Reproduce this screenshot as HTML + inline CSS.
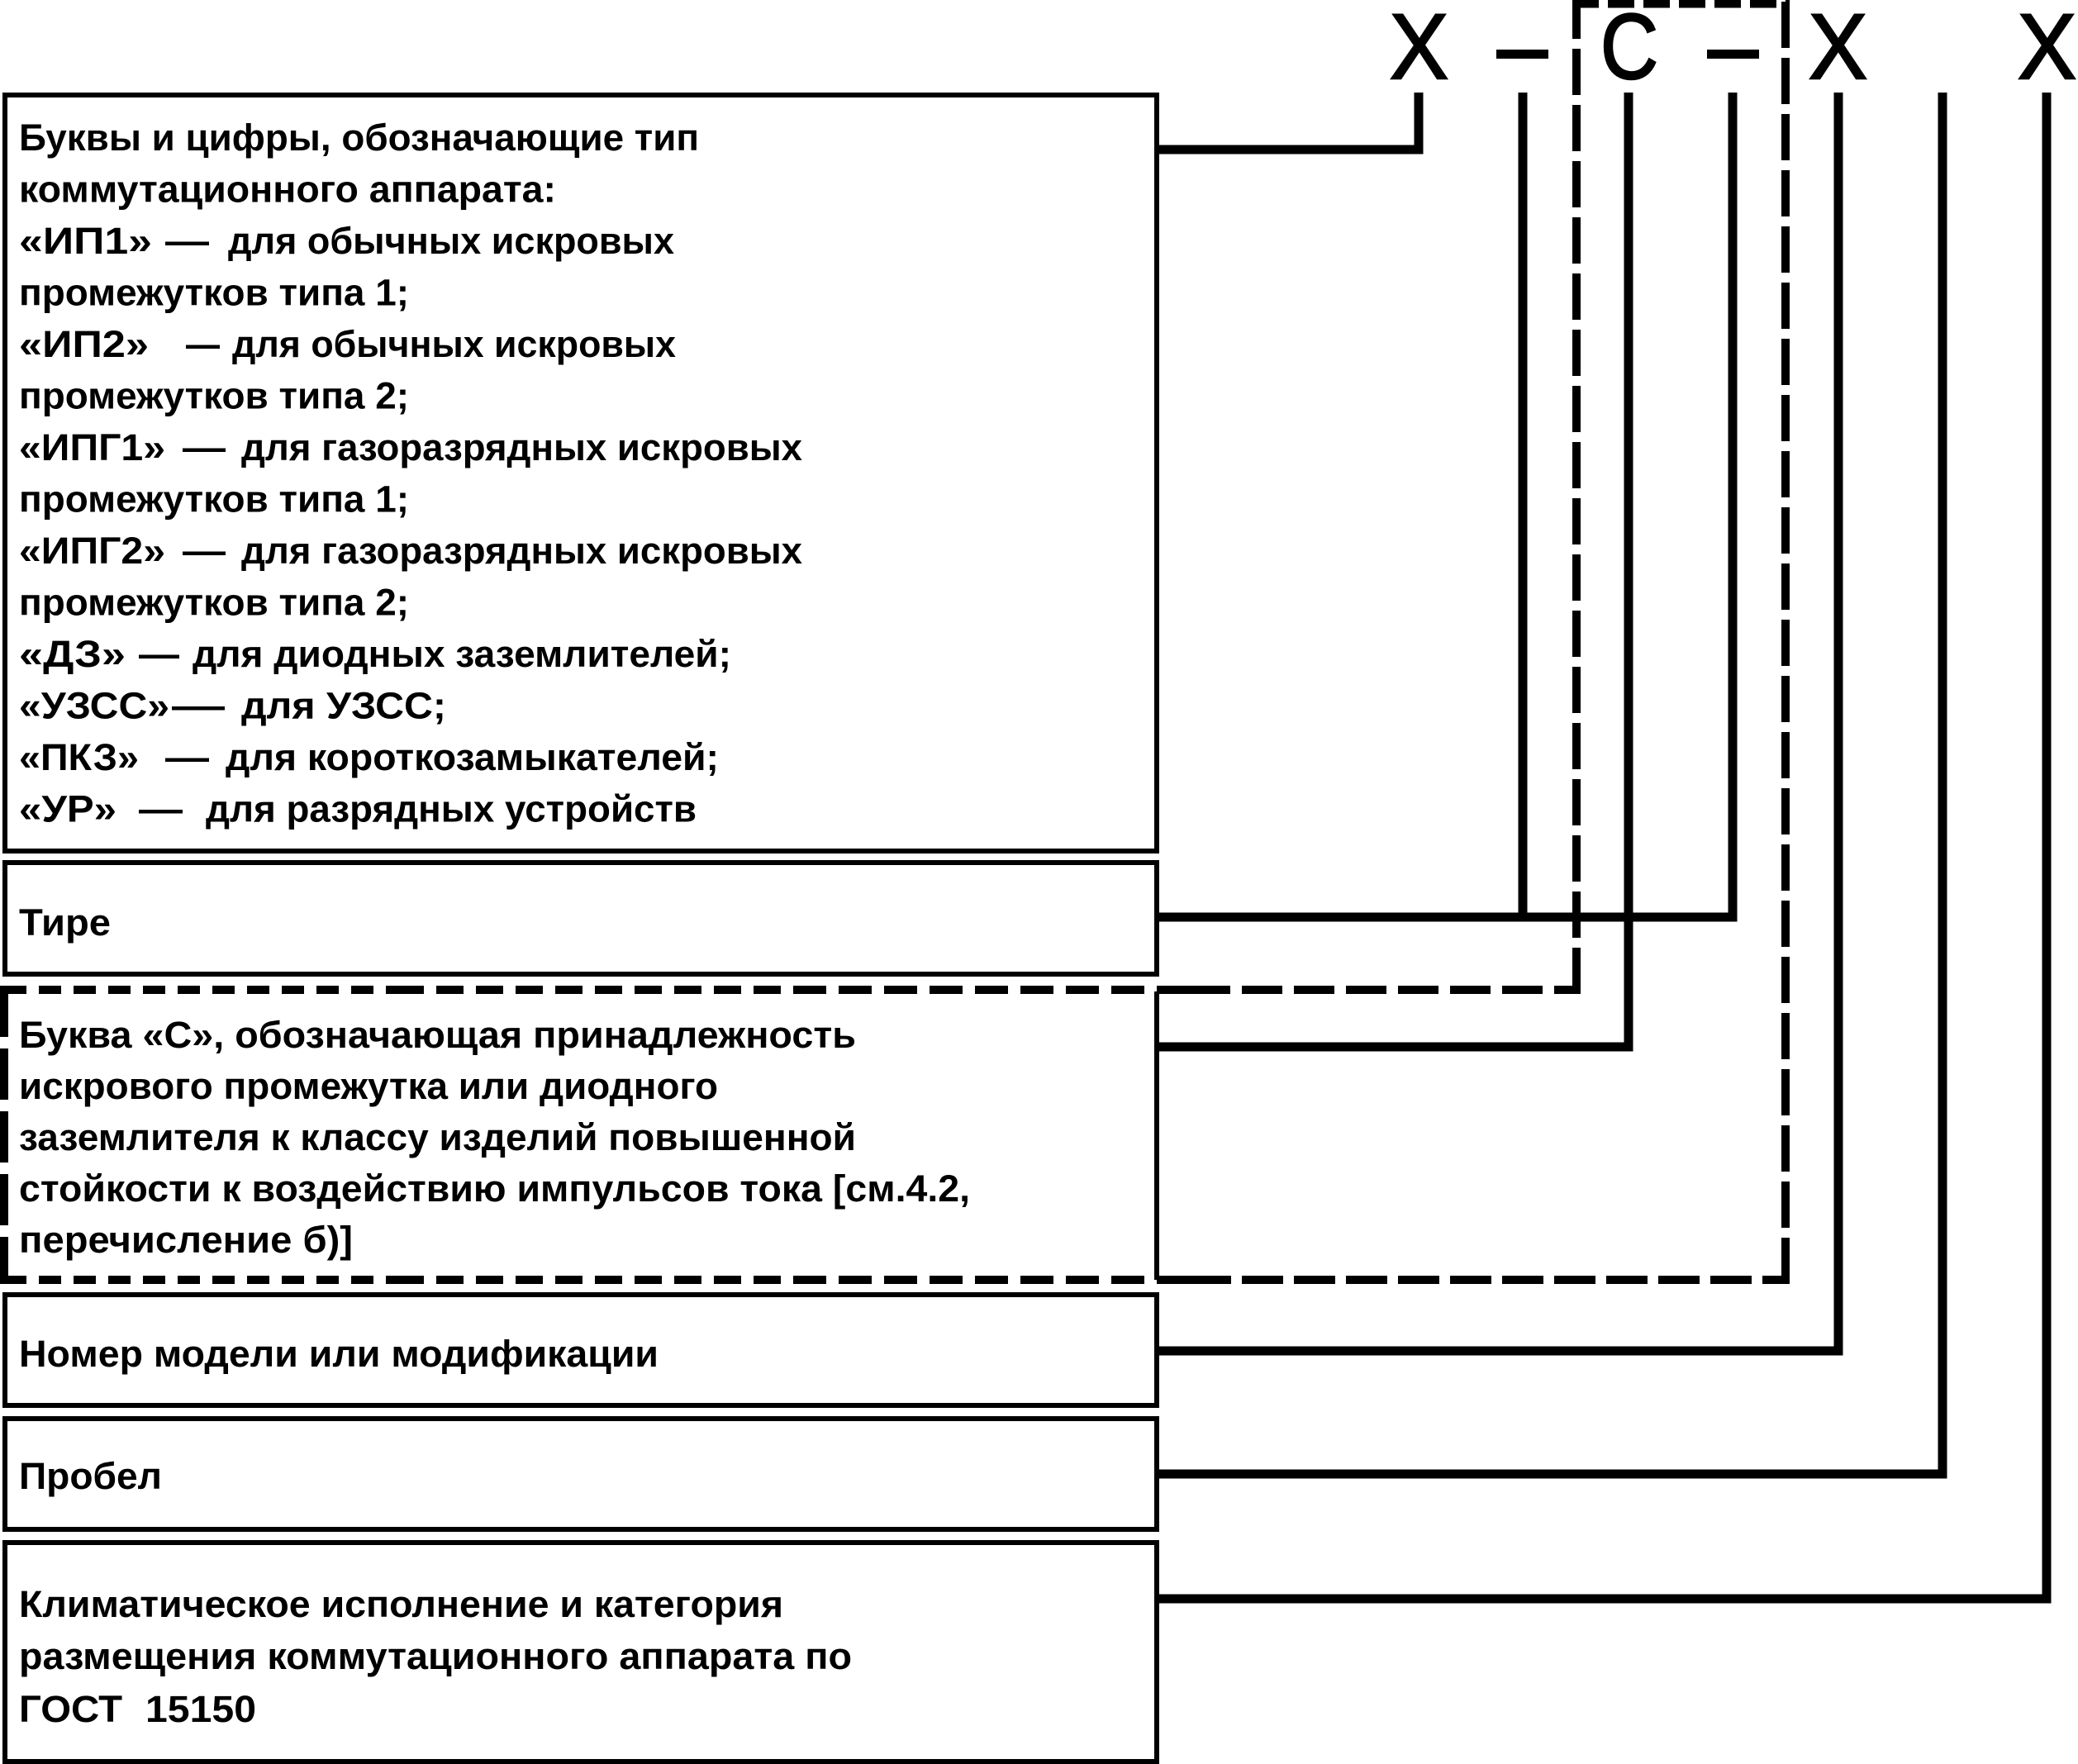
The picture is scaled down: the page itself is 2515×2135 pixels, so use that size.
<!DOCTYPE html>
<html>
<head>
<meta charset="utf-8">
<style>
html,body{margin:0;padding:0;background:#fff;}
body{width:2515px;height:2135px;overflow:hidden;}
svg{display:block;}
.t{font-family:"Liberation Sans","DejaVu Sans",sans-serif;font-weight:bold;font-size:45px;fill:#000;}
.big{font-family:"Liberation Sans","DejaVu Sans",sans-serif;font-weight:normal;font-size:112px;fill:#000;stroke:#000;stroke-width:2.5;}
</style>
</head>
<body>
<svg width="2515" height="2135" viewBox="0 0 2515 2135" xmlns="http://www.w3.org/2000/svg">
<rect x="0" y="0" width="2515" height="2135" fill="#fff"/>

<!-- Big designation letters -->
<text class="big" x="1682" y="95" textLength="71" lengthAdjust="spacingAndGlyphs">X</text>
<rect x="1811" y="60" width="63" height="11" fill="#000"/>
<text class="big" x="1937" y="95" textLength="70" lengthAdjust="spacingAndGlyphs">C</text>
<rect x="2066" y="60" width="63" height="11" fill="#000"/>
<text class="big" x="2189" y="95" textLength="71" lengthAdjust="spacingAndGlyphs">X</text>
<text class="big" x="2442" y="95" textLength="71" lengthAdjust="spacingAndGlyphs">X</text>

<!-- Boxes -->
<g fill="none" stroke="#000" stroke-width="6">
  <rect x="6" y="115" width="1394" height="915"/>
  <rect x="6" y="1044" width="1394" height="135"/>
  <line x1="1400" y1="1200" x2="1400" y2="1549"/>
  <rect x="6" y="1567" width="1394" height="134"/>
  <rect x="6" y="1717" width="1394" height="134"/>
  <rect x="6" y="1867" width="1394" height="265"/>
</g>

<!-- Connectors -->
<g fill="none" stroke="#000" stroke-width="11" stroke-linejoin="miter">
  <polyline points="1400,181 1717,181 1717,112"/>
  <line x1="1843" y1="112" x2="1843" y2="1110"/>
  <polyline points="1400,1110 2097,1110 2097,112"/>
  <polyline points="1400,1267 1971,1267 1971,112"/>
  <polyline points="1400,1635 2225,1635 2225,112"/>
  <polyline points="1400,1784 2351,1784 2351,112"/>
  <polyline points="1400,1935 2477,1935 2477,112"/>
</g>

<!-- Dashed enclosure -->
<g fill="none" stroke="#000" stroke-width="10">
  <line x1="5" y1="1198" x2="480" y2="1198" stroke-dasharray="27 15"/>
  <line x1="480" y1="1198" x2="960" y2="1198" stroke-dasharray="33 15"/>
  <line x1="960" y1="1198" x2="1440" y2="1198" stroke-dasharray="40 15"/>
  <line x1="1440" y1="1198" x2="1913" y2="1198" stroke-dasharray="49 14"/>

  <line x1="5" y1="1549" x2="480" y2="1549" stroke-dasharray="27 15"/>
  <line x1="480" y1="1549" x2="960" y2="1549" stroke-dasharray="33 15"/>
  <line x1="960" y1="1549" x2="1440" y2="1549" stroke-dasharray="40 15"/>
  <line x1="1440" y1="1549" x2="2166" y2="1549" stroke-dasharray="50 13"/>

  <line x1="5" y1="1193" x2="5" y2="1554" stroke-dasharray="62 14"/>
  <line x1="1908" y1="1203" x2="1908" y2="0" stroke-dasharray="56 12"/>
  <line x1="2161" y1="1554" x2="2161" y2="0" stroke-dasharray="56 12"/>
  <line x1="1903" y1="4.5" x2="2166" y2="4.5" stroke-dasharray="32 11"/>
</g>

<!-- Box 1 text -->
<g class="t">
  <text x="23" y="182" textLength="823" lengthAdjust="spacingAndGlyphs">Буквы и цифры, обозначающие тип</text>
  <text x="23" y="244.5" textLength="650" lengthAdjust="spacingAndGlyphs">коммутационного аппарата:</text>

  <text x="23" y="307" textLength="161" lengthAdjust="spacingAndGlyphs">«ИП1»</text>
  <text x="200" y="307" textLength="53" lengthAdjust="spacingAndGlyphs">—</text>
  <text x="276" y="307" textLength="540" lengthAdjust="spacingAndGlyphs">для обычных искровых</text>

  <text x="23" y="369.5" textLength="472" lengthAdjust="spacingAndGlyphs">промежутков типа 1;</text>

  <text x="23" y="432" textLength="157" lengthAdjust="spacingAndGlyphs">«ИП2»</text>
  <text x="225" y="432" textLength="41" lengthAdjust="spacingAndGlyphs">—</text>
  <text x="281" y="432" textLength="537" lengthAdjust="spacingAndGlyphs">для обычных искровых</text>

  <text x="23" y="494.5" textLength="472" lengthAdjust="spacingAndGlyphs">промежутков типа 2;</text>

  <text x="23" y="557" textLength="177" lengthAdjust="spacingAndGlyphs">«ИПГ1»</text>
  <text x="221" y="557" textLength="52" lengthAdjust="spacingAndGlyphs">—</text>
  <text x="292" y="557" textLength="679" lengthAdjust="spacingAndGlyphs">для газоразрядных искровых</text>

  <text x="23" y="619.5" textLength="472" lengthAdjust="spacingAndGlyphs">промежутков типа 1;</text>

  <text x="23" y="682" textLength="177" lengthAdjust="spacingAndGlyphs">«ИПГ2»</text>
  <text x="221" y="682" textLength="52" lengthAdjust="spacingAndGlyphs">—</text>
  <text x="292" y="682" textLength="679" lengthAdjust="spacingAndGlyphs">для газоразрядных искровых</text>

  <text x="23" y="744.5" textLength="472" lengthAdjust="spacingAndGlyphs">промежутков типа 2;</text>

  <text x="23" y="807" textLength="129" lengthAdjust="spacingAndGlyphs">«ДЗ»</text>
  <text x="168" y="807" textLength="49" lengthAdjust="spacingAndGlyphs">—</text>
  <text x="233" y="807" textLength="652" lengthAdjust="spacingAndGlyphs">для диодных заземлителей;</text>

  <text x="23" y="869.5" textLength="182" lengthAdjust="spacingAndGlyphs">«УЗСС»</text>
  <text x="208" y="869.5" textLength="64" lengthAdjust="spacingAndGlyphs">—</text>
  <text x="292" y="869.5" textLength="248" lengthAdjust="spacingAndGlyphs">для УЗСС;</text>

  <text x="23" y="932" textLength="145" lengthAdjust="spacingAndGlyphs">«ПКЗ»</text>
  <text x="200" y="932" textLength="53" lengthAdjust="spacingAndGlyphs">—</text>
  <text x="273" y="932" textLength="597" lengthAdjust="spacingAndGlyphs">для короткозамыкателей;</text>

  <text x="23" y="994.5" textLength="118" lengthAdjust="spacingAndGlyphs">«УР»</text>
  <text x="168" y="994.5" textLength="53" lengthAdjust="spacingAndGlyphs">—</text>
  <text x="249" y="994.5" textLength="594" lengthAdjust="spacingAndGlyphs">для разрядных устройств</text>
</g>

<!-- Box 2 -->
<text class="t" x="23" y="1132" textLength="111" lengthAdjust="spacingAndGlyphs">Тире</text>

<!-- Box 3 (C) -->
<g class="t">
  <text x="23" y="1268" textLength="1013" lengthAdjust="spacingAndGlyphs">Буква «С», обозначающая принадлежность</text>
  <text x="23" y="1330" textLength="846" lengthAdjust="spacingAndGlyphs">искрового промежутка или диодного</text>
  <text x="23" y="1392" textLength="1013" lengthAdjust="spacingAndGlyphs">заземлителя к классу изделий повышенной</text>
  <text x="23" y="1454" textLength="1151" lengthAdjust="spacingAndGlyphs">стойкости к воздействию импульсов тока [см.4.2,</text>
  <text x="23" y="1516" textLength="404" lengthAdjust="spacingAndGlyphs">перечисление б)]</text>
</g>

<!-- Box 4 -->
<text class="t" x="23" y="1654" textLength="774" lengthAdjust="spacingAndGlyphs">Номер модели или модификации</text>

<!-- Box 5 -->
<text class="t" x="23" y="1802" textLength="173" lengthAdjust="spacingAndGlyphs">Пробел</text>

<!-- Box 6 -->
<g class="t">
  <text x="23" y="1957" textLength="925" lengthAdjust="spacingAndGlyphs">Климатическое исполнение и категория</text>
  <text x="23" y="2020" textLength="1008" lengthAdjust="spacingAndGlyphs">размещения коммутационного аппарата по</text>
  <text x="23" y="2084" textLength="125" lengthAdjust="spacingAndGlyphs">ГОСТ</text>
  <text x="176" y="2084" textLength="134" lengthAdjust="spacingAndGlyphs">15150</text>
</g>
</svg>
</body>
</html>
